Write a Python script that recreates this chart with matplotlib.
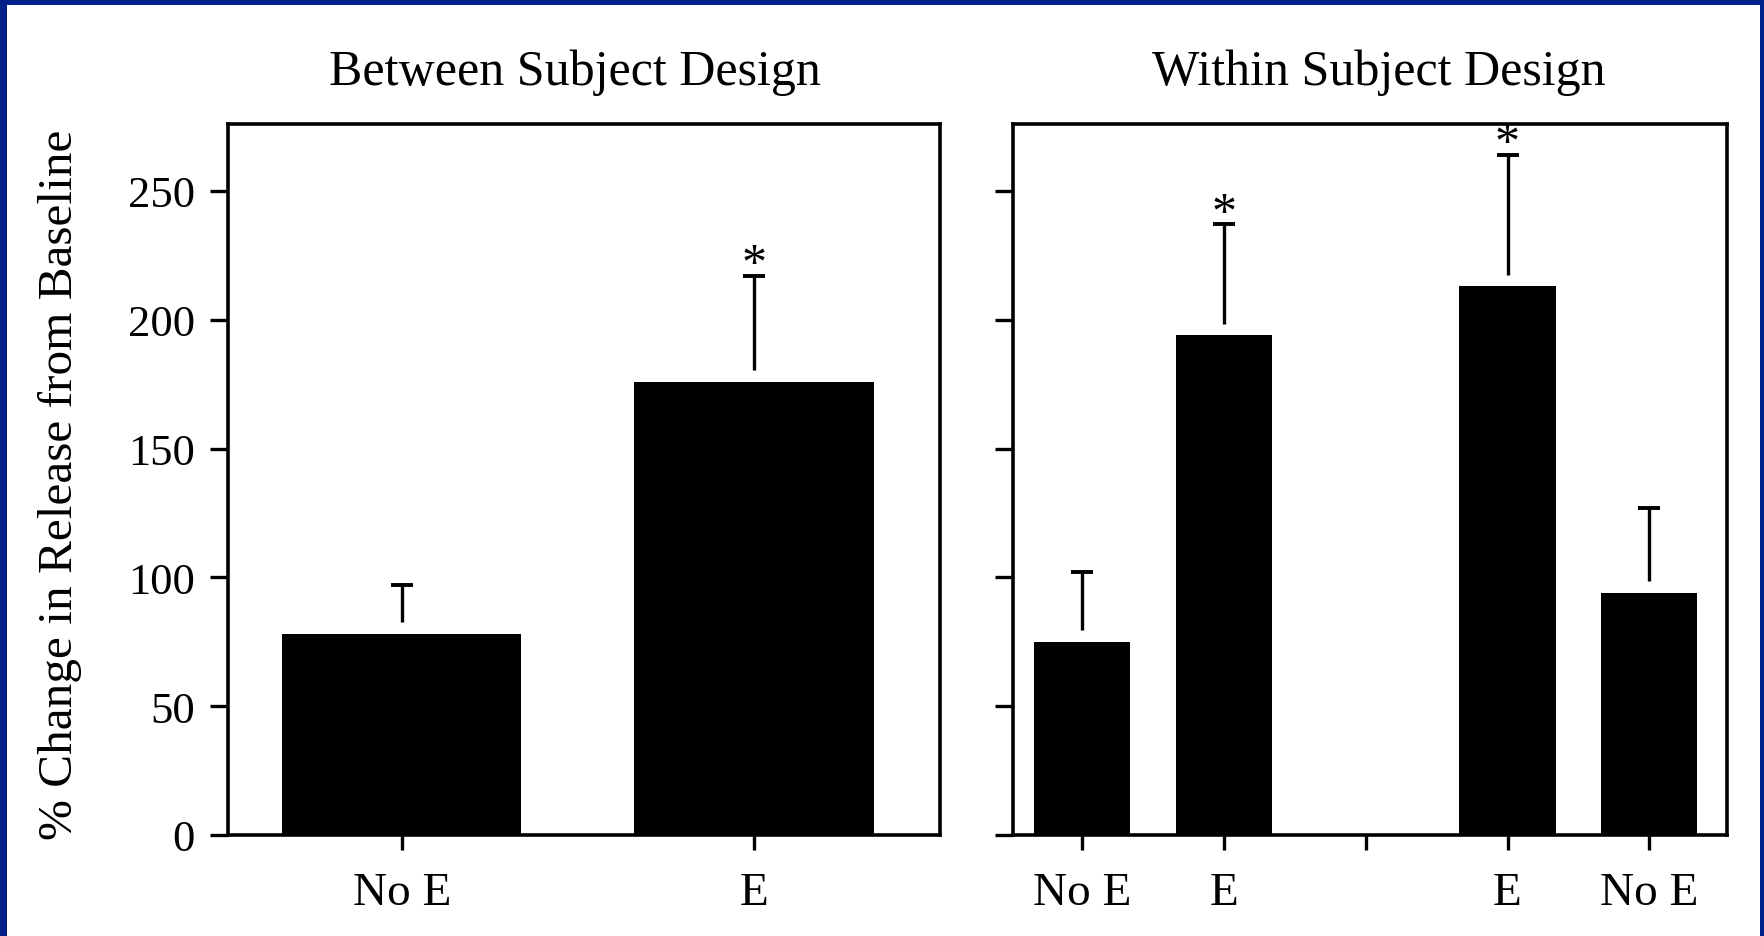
import numpy as np
import matplotlib.pyplot as plt
from matplotlib.patches import Rectangle

# Between subject design: one group per condition
between_labels = ["No E", "E"]
between_pos = [1, 2]
between_mean = [78, 176]
between_sem = [19, 41]
between_sig = [False, True]

# Within subject design: E / No E sessions in both orders
within_labels = ["No E", "E", "", "E", "No E"]
within_ticks = [1, 2, 3, 4, 5]
within_pos = [1, 2, 4, 5]
within_mean = [75, 194, 213, 94]
within_sem = [27, 43, 51, 33]
within_sig = [False, True, True, False]

yticks = [0, 50, 100, 150, 200, 250]

plt.rcParams['font.family'] = ['Liberation Serif', 'DejaVu Serif']

BORDER = "#02208a"
BAR_W = 0.68
GAP = 4.5  # error line starts a little above the bar top


def draw_bars(ax, pos, mean, sem, sig):
    ax.bar(pos, mean, width=BAR_W, color="black", zorder=2)
    for x, m, s, star in zip(pos, mean, sem, sig):
        ax.vlines(x, m + GAP, m + s, color="black", lw=2.4, zorder=3)
        ax.plot([x], [m + s], marker="_", ms=16, mew=2.8, color="black", zorder=3)
        if star:
            ax.annotate("*", (x, m + s), xytext=(0, -1), textcoords="offset points",
                        ha="center", va="baseline", fontsize=36)


def style_axes(ax):
    ax.set_ylim(0, 276)
    ax.set_yticks(yticks)
    for sp in ax.spines.values():
        sp.set_linewidth(2.6)
    ax.tick_params(axis="y", direction="out", length=13, width=2.4, pad=11, labelsize=32)
    ax.tick_params(axis="x", direction="out", length=11, width=2.4, pad=15, labelsize=34)


fig = plt.figure(figsize=(17.64, 9.37), dpi=100)
fig.patch.set_facecolor(BORDER)
# white page inside the blue frame, kept behind the axes
fig.patches.append(Rectangle((7 / 1764, 0), 1753 / 1764, 931 / 937,
                             transform=fig.transFigure, facecolor="white",
                             edgecolor="none", zorder=-10))

ax1 = fig.add_axes([0.1295, 0.1078, 0.4031, 0.7588])
ax2 = fig.add_axes([0.574, 0.1078, 0.405, 0.7588])

draw_bars(ax1, between_pos, between_mean, between_sem, between_sig)
style_axes(ax1)
ax1.set_xlim(0.508, 2.527)
ax1.set_xticks(between_pos)
ax1.set_xticklabels(between_labels)
ax1.set_title("Between Subject Design", fontsize=36, pad=29, x=0.4875)

draw_bars(ax2, within_pos, within_mean, within_sem, within_sig)
style_axes(ax2)
ax2.set_xlim(0.508, 5.548)
ax2.set_xticks(within_ticks)
ax2.set_xticklabels(within_labels)
ax2.set_yticklabels([])
ax2.set_title("Within Subject Design", fontsize=36, pad=29, x=0.512)

fig.text(60 / 1764, 1 - 485 / 937, "% Change in Release from Baseline",
         rotation=90, ha="center", va="center", fontsize=35.5)

fig.savefig("out.png", dpi=100, facecolor=fig.get_facecolor())
